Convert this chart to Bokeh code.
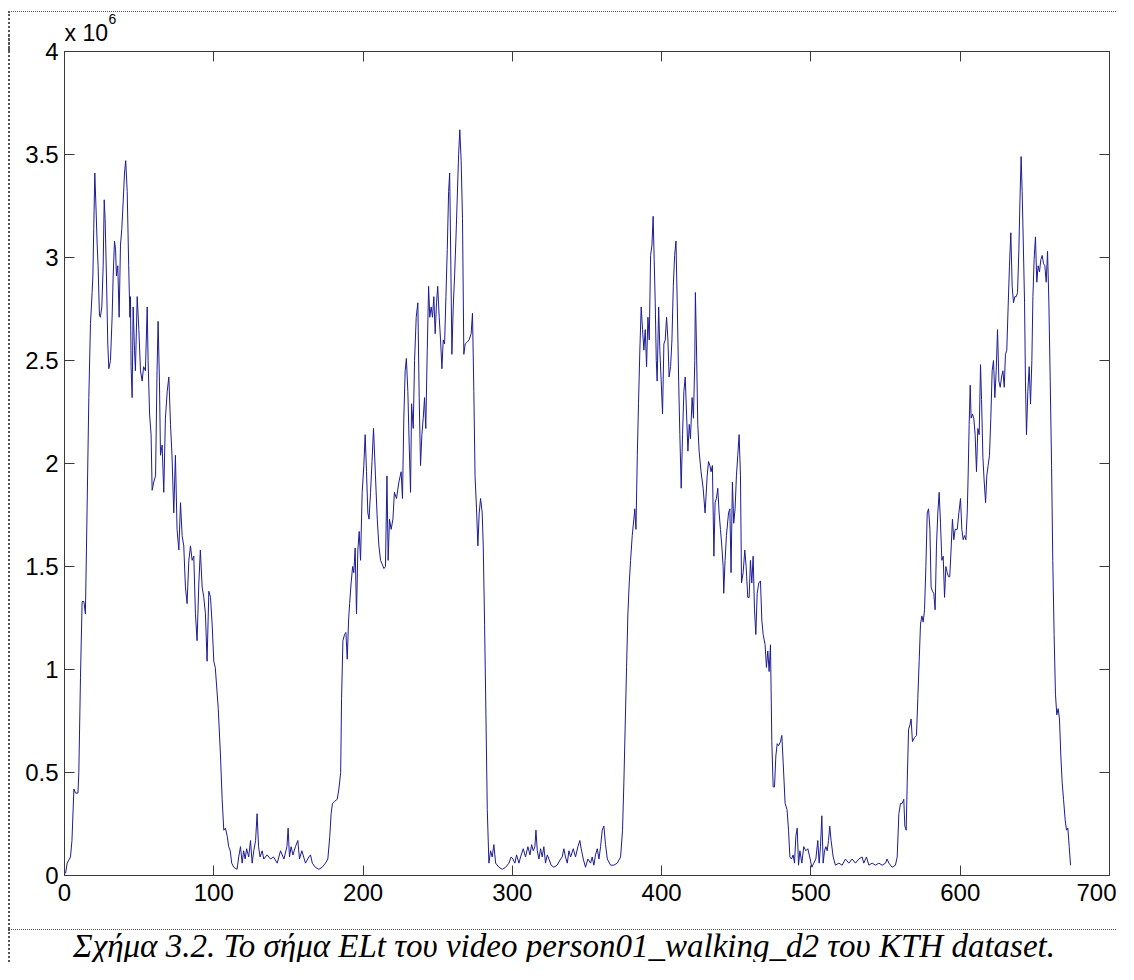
from bokeh.plotting import figure
from bokeh.layouts import column
from bokeh.models import (Range1d, LinearAxis, FixedTicker, CustomJSTickFormatter,
                          Label, ColumnDataSource)
from bokeh.embed import file_html
from bokeh.resources import INLINE

# ---------------- data (frame index, ELt value in units of 10^6) ----------------
frame = [
    0.7, 1.8, 4, 5, 6.3, 7.4, 9, 9.6, 10.7, 11.8, 13, 14, 14.7, 16.3, 17.4, 18.5, 19, 19.6, 20.3, 21.2,
    21.9, 22.5, 23.4, 24, 25, 25.9, 26.6, 27.2, 28.1, 29, 29.7, 30.8, 31.9, 32.6, 33.5, 34.2, 34.8, 35.7,
    36.6, 37.5, 38.4, 39.3, 40.2, 41, 42, 43, 43.8, 44.2, 44.6, 45.3, 46, 46.9, 47.5, 48.7, 49.8, 50.9,
    52, 53, 54.2, 55.4, 56, 57, 58, 58.7, 59.8, 61, 62, 62.7, 63.6, 64.3, 65.4, 66.5, 67.6, 68.8, 69.9,
    71, 72, 73.2, 74.3, 75.4, 76.6, 77.7, 78.8, 79.9, 81, 82.1, 83.3, 84.4, 85.5, 86.6, 87.7, 88.8, 90,
    91, 92.2, 93.3, 94.4, 95.5, 96.7, 97.8, 98.9, 100, 101, 102, 103, 104.5, 105.6, 106.7, 107.8, 109,
    110, 111, 112, 113.4, 115.6, 116.7, 117.9, 119, 120, 121, 122, 123.4, 124.6, 125.7, 126.8, 128, 129,
    130, 131, 132.4, 133.5, 135.7,
    138, 140, 142.5, 144.7, 147, 149, 149.8, 150.7, 151.8, 153, 154.7, 156.3, 157.4, 159, 161.4, 163.7,
    164.8, 166, 168, 170.4, 172.6, 174.8, 176.4, 177.7, 178.6, 179.5, 180.9, 182.7, 183.8, 185, 185.6,
    186.5, 187.6, 188.5, 189.4, 190.3, 191, 192, 193, 193.8, 194.7, 195.6, 196.5, 197.4, 198.3, 199.4,
    200.5, 201.4, 202.3, 203.2, 204, 205, 206, 207, 208.3, 209.5, 210.6, 211.7, 214, 215, 216, 216.8,
    217.7, 218.8, 220, 221, 222.4, 224, 225.5, 226.4, 227.3, 228.2, 229, 230, 230.9, 231.8, 232.5, 233.6,
    234.5, 235.6, 236.7, 237.6, 238.5, 239.4, 240.3, 241.2, 242, 243, 243.9, 244.7, 245.6, 246.5, 247.4,
    248.3, 249.2, 250, 251, 251.9, 252.8, 253.7, 254.6, 255.5, 256.4, 257.3, 258, 258.8, 259.5, 260.4,
    261.3, 262.2, 263, 264, 264.8, 265.7, 266.6, 267.5, 268.4, 269.8, 271, 272.4, 273.3, 274.2, 275, 276,
    276.9, 277.8,
    278.7, 279.8, 280.5, 281.4, 282.3, 283.2, 284.3, 285.4, 286.5, 287.6, 288.8, 291, 293.2, 295.5, 297.7,
    299.2, 300.4, 301.7, 302.8, 304.4, 305.5, 307.3, 308.8, 310.4, 311.8, 312.9, 314, 315.1, 315.8, 316.7,
    317.8, 318.9, 320, 321.1, 322.2, 323.4, 324.5, 326, 327.8, 330, 332.3, 333.4, 334.5, 335.6, 336.8,
    337.9, 339, 340.8, 342.3, 343.9, 345.2, 346.1, 347.5, 349, 350.6, 352.4, 353.5, 354.6, 355.7, 356.9,
    358, 359.1, 360.2, 361.3, 362.4, 363.6, 365.8, 368, 370.3, 372.5, 373.8, 374.7, 375.6, 376.5, 377.4,
    378.3, 379.2, 380.3, 381.4, 382, 382.8, 383.7, 384.5, 385.4, 386.3, 387.2, 388.1, 389, 389.9, 390.8,
    391.7, 392.6, 393.5, 394.3, 395, 395.7, 396.4, 397, 398, 398.8, 399.7, 400.6, 401.5, 402.4, 403.3,
    404.2, 405, 406, 406.9, 407.8, 408.7, 409.6, 410.5, 411.4, 412.2, 413.1, 414, 414.9, 415.8, 416.7,
    417.6, 418.5,
    419.3, 420.4, 421.3, 422.2, 422.6, 423.3, 424.2, 425.1, 426.4, 427.8, 429.1, 430.5, 431.4, 432.3,
    433.1, 434, 435, 435.8, 436.7, 437.6, 438.5, 439.4, 440.3, 441.2, 441.6, 442.5, 443.4, 444.8, 445.7,
    446.5, 447.4, 448.3, 449.2, 450.1, 451, 451.9, 452.8, 453.5, 454.6, 455.7, 456.6, 457.7, 458.6, 459.5,
    460.4, 461.3, 462.2, 463.1, 464, 465.1, 466.2, 467.1, 468, 469.3, 470.2, 471.1, 472, 472.9, 473.8,
    474.7, 475.6, 476.5, 477.4, 478.3, 479.6, 480.5, 481.4, 482.7, 484, 485, 485.9, 487, 488.1, 489,
    489.9, 490.8, 491.7, 492.6, 493.9, 495.2, 496.6, 497.9, 499.2, 500.6, 501.9, 503.3, 504.6, 505.5,
    506.4, 507.3, 508.2, 509.1, 510, 510.9, 511.8, 512.6, 513.5, 514.9, 516.4, 518.7, 520.9, 523.1, 525.4,
    527.6, 529.8, 532.1, 534.3, 535.4, 537.2, 538.8, 541, 543.2, 545.5, 547.7, 550, 551, 552.2, 554.4,
    556.6, 557.8, 558.9, 560,
    561.1, 562.2, 562.9, 563.8, 564.5, 565.4, 566.3, 567.1, 568, 569.4, 570.7, 571.6, 572.5, 573.4, 574.3,
    575.2, 576.1, 577, 577.9, 578.8, 579.7, 580.5, 581.4, 582.3, 583.2, 584.1, 585, 585.9, 586.8, 587.7,
    588.6, 589.5, 590.4, 591.3, 592.2, 593, 594, 594.8, 595.7, 596.6, 598, 599.1, 600.2, 601.1, 602,
    602.9, 603.8, 604.7, 605.3, 606, 606.7, 607.3, 608.2, 609.1, 610, 610.9, 611.8, 612.7, 613.6, 614.3,
    615.2, 616, 617, 617.8, 618.7, 619.6, 620.5, 621.4, 622.3, 623.2, 624.1, 625, 625.9, 626.8, 627.7,
    628.6, 629.5, 630.3, 631.2, 632.1, 633, 633.9, 634.8, 635.7, 636.6, 637.5, 638.4, 639.3, 640, 640.8,
    641.5, 642.2, 643.1, 643.7, 644.4, 645.3, 646.2, 647.1, 648, 648.7, 649.5, 650.4, 651.3, 652.2, 653.1,
    654, 654.9, 655.8, 656.7, 657.6, 658.5, 659.4, 660.3, 661.2, 662, 662.9, 663.8, 664.7, 665.6, 666.5,
    667.4, 668.3, 669.2, 670.3, 671.2, 672.1, 673, 673.9,
]

elt = [
    0.01, 0.06, 0.09, 0.17, 0.42, 0.40, 0.40, 0.5, 0.96, 1.33, 1.33, 1.27, 1.58, 2.32, 2.68, 2.83, 2.91, 3.14, 3.41, 3.22,
    3.06, 2.96, 2.72, 2.71, 2.76, 2.96, 3.28, 3.19, 2.91, 2.58, 2.46, 2.5, 2.71, 2.91, 3.08, 3.04, 2.91, 2.96,
    2.71, 3.06, 3.14, 3.27, 3.41, 3.47, 3.32, 2.96, 2.71, 2.81, 2.47, 2.32, 2.76, 2.55, 2.45, 2.81, 2.65, 2.45,
    2.4, 2.47, 2.45, 2.76, 2.5, 2.24, 2.14, 1.87, 1.91, 1.94, 2.45, 2.69, 2.4, 2.04, 2.09, 1.86, 2.22, 2.35, 2.42,
    2.19, 2.04, 1.76, 2.04, 1.68, 1.58, 1.81, 1.65, 1.6, 1.4, 1.32, 1.53, 1.6, 1.53, 1.55, 1.27, 1.14, 1.42,
    1.58, 1.4, 1.35, 1.27, 1.04, 1.38, 1.35, 1.22, 1.04, 1.01, 0.91, 0.81, 0.58, 0.37, 0.22, 0.23, 0.19,
    0.14, 0.12, 0.06, 0.04, 0.03, 0.09, 0.14, 0.06, 0.12, 0.08, 0.13, 0.09, 0.17, 0.06, 0.12, 0.17, 0.3,
    0.14, 0.09, 0.12, 0.08, 0.1,
    0.08, 0.09, 0.06, 0.12, 0.08, 0.14, 0.23, 0.09, 0.14, 0.1, 0.14, 0.17, 0.08, 0.12, 0.06, 0.09,
    0.1, 0.06, 0.04, 0.03, 0.04, 0.06, 0.08, 0.19, 0.3, 0.35, 0.36, 0.37, 0.42, 0.5, 0.86,
    1.14, 1.17, 1.18, 1.05, 1.24, 1.32, 1.42, 1.5, 1.47, 1.59, 1.27, 1.58, 1.67, 1.53, 1.86,
    1.99, 2.14, 1.96, 1.76, 1.73, 1.86, 2.01, 2.17, 1.94, 1.73, 1.6, 1.53, 1.49, 1.5, 1.94, 1.53,
    1.73, 1.68, 1.73, 1.86, 1.83, 1.91, 1.96, 1.83, 2.22, 2.45, 2.51, 2.35, 2.09, 1.86, 2.29, 2.17,
    2.5, 2.71, 2.78, 2.32, 1.99, 2.14, 2.22, 2.32, 2.17, 2.55, 2.86, 2.71, 2.76, 2.71, 2.81,
    2.63, 2.78, 2.86, 2.71, 2.6, 2.46, 2.6, 2.58, 2.81, 3.04, 3.32, 3.41, 2.96, 2.53, 2.76,
    2.91, 3.09, 3.27, 3.5, 3.62, 3.47, 3.19, 2.53, 2.58, 2.59, 2.6, 2.63, 2.73, 2.35, 1.94, 1.78,
    1.6, 1.76,
    1.83, 1.76, 1.6, 1.22, 0.78, 0.32, 0.06, 0.12, 0.09, 0.15, 0.06, 0.04, 0.03, 0.04, 0.06,
    0.09, 0.08, 0.06, 0.1, 0.06, 0.09, 0.13, 0.09, 0.14, 0.1, 0.15, 0.12, 0.14, 0.22, 0.12,
    0.08, 0.13, 0.09, 0.14, 0.06, 0.1, 0.08, 0.05, 0.04, 0.05, 0.08, 0.09, 0.13, 0.09, 0.06,
    0.12, 0.09, 0.13, 0.09, 0.14, 0.17, 0.13, 0.08, 0.04, 0.08, 0.06, 0.09, 0.05, 0.1, 0.13,
    0.08, 0.14, 0.22, 0.24, 0.15, 0.08, 0.05, 0.05, 0.06, 0.09, 0.22, 0.45, 0.73, 1.01, 1.27,
    1.42, 1.53, 1.65, 1.73, 1.78, 1.68, 2.04, 2.29, 2.55, 2.76, 2.65, 2.55, 2.65, 2.47, 2.71,
    2.6, 3.01, 3.06, 3.2, 2.99, 2.78, 2.5, 2.4, 2.76, 2.55, 2.4, 2.24, 2.58, 2.6, 2.71,
    2.6, 2.42, 2.47, 2.6, 2.86, 3.01, 3.08, 2.76, 2.4, 2.14, 1.88, 2.14, 2.35, 2.42, 2.24,
    2.06, 2.19,
    2.12, 2.32, 2.22, 2.5, 2.83, 2.58, 2.19, 2.06, 1.96, 1.88, 1.76, 1.94, 2.01, 1.99,
    1.96, 1.99, 1.55, 1.81, 1.83, 1.88, 1.76, 1.68, 1.6, 1.5, 1.37, 1.53, 1.65, 1.76, 1.78,
    1.47, 1.91, 1.71, 1.78, 1.94, 2.04, 2.14, 1.94, 1.42, 1.47, 1.58, 1.5, 1.35, 1.35, 1.53,
    1.42, 1.55, 1.29, 1.17, 1.37, 1.42, 1.43, 1.24, 1.17, 1.12, 1.01, 1.09, 0.99, 1.12, 0.65,
    0.43, 0.43, 0.58, 0.64, 0.63, 0.65, 0.68, 0.55, 0.35, 0.32, 0.22, 0.09, 0.08, 0.1, 0.06,
    0.19, 0.23, 0.05, 0.12, 0.06, 0.14, 0.12, 0.13, 0.09, 0.04, 0.06, 0.08, 0.17, 0.06,
    0.14, 0.29, 0.06, 0.12, 0.14, 0.12, 0.17, 0.24, 0.17, 0.09, 0.05, 0.06, 0.05, 0.08, 0.06,
    0.08, 0.06, 0.08, 0.09, 0.06, 0.09, 0.05, 0.06, 0.05, 0.06, 0.05, 0.06, 0.08, 0.06, 0.04,
    0.05, 0.09, 0.3, 0.35,
    0.35, 0.37, 0.24, 0.22, 0.45, 0.71, 0.73, 0.76, 0.65, 0.67, 0.68, 0.86, 1.04, 1.22, 1.26,
    1.23, 1.29, 1.5, 1.76, 1.78, 1.68, 1.4, 1.38, 1.37, 1.29, 1.6, 1.76, 1.86, 1.71, 1.53,
    1.55, 1.35, 1.5, 1.47, 1.45, 1.45, 1.6, 1.73, 1.63, 1.68, 1.68, 1.76, 1.83, 1.68, 1.63,
    1.65, 1.63, 1.76, 1.94, 2.19, 2.38, 2.22, 2.24, 2.22, 2.14, 1.96, 2.17, 2.14, 2.48, 2.31,
    2.03, 1.92, 1.81, 1.94, 1.99, 2.04, 2.22, 2.45, 2.5, 2.32, 2.45, 2.65, 2.4, 2.37, 2.42,
    2.45, 2.37, 2.53, 2.55, 2.76, 2.96, 3.12, 2.86, 2.78, 2.81, 2.81, 2.83, 3.04, 3.27, 3.49,
    3.32, 3.09, 2.78, 2.4, 2.14, 2.35, 2.47, 2.29, 2.5, 2.81, 2.99, 3.1, 2.88, 2.96, 2.93,
    2.99, 3.01, 2.97, 2.96, 2.88, 3.03, 2.78, 2.4, 1.99, 1.53, 1.17, 0.88, 0.78, 0.81, 0.76,
    0.58, 0.45, 0.37, 0.27, 0.22, 0.23, 0.14, 0.05,
]

x_ticks = [0, 100, 200, 300, 400, 500, 600, 700]
y_ticks = [0, 0.5, 1, 1.5, 2, 2.5, 3, 3.5, 4]
exponent_base = "x 10"
exponent_power = "6"
caption = "Σχήμα 3.2. Το σήμα ELt του video person01_walking_d2 του KTH dataset."

n = min(len(frame), len(elt))
source = ColumnDataSource(data=dict(x=frame[:n], y=elt[:n]))

AX = "#3a3a3a"
DOT = "#555555"

def strip(height, styles):
    f = figure(width=1108, height=height, output_backend="svg", toolbar_location=None,
               title=None, x_range=Range1d(0, 1), y_range=Range1d(0, 1),
               x_axis_location=None, y_axis_location=None,
               min_border_left=54, min_border_right=9, min_border_top=0, min_border_bottom=0)
    f.styles = styles
    f.grid.visible = False
    f.outline_line_color = None
    f.background_fill_color = "white"
    f.border_fill_color = "white"
    return f

# ---------------- header strip with the exponent "x 10^6" ----------------
hdr = strip(40, {"margin-left": "8px", "margin-top": "11px",
                 "border-top": "1px dotted " + DOT, "border-left": "2px dotted " + DOT})
hdr.add_layout(Label(x=0, y=20, x_units="screen", y_units="screen", text=exponent_base,
                     text_font="Liberation Sans", text_font_size="23px", text_color="black",
                     text_align="left", text_baseline="alphabetic"))
hdr.add_layout(Label(x=44, y=34, x_units="screen", y_units="screen", text=exponent_power,
                     text_font="Liberation Sans", text_font_size="14px", text_color="black",
                     text_align="left", text_baseline="alphabetic"))

# ---------------- main MATLAB-style figure (overlaps the header a little) ----------------
p = figure(width=1108, height=894, output_backend="svg", toolbar_location=None,
           title=None, x_range=Range1d(0, 700), y_range=Range1d(0, 4),
           min_border_left=54, min_border_right=9, min_border_top=16, min_border_bottom=54)
p.styles = {"margin-left": "8px", "margin-top": "-16px", "border-left": "2px dotted " + DOT}
p.background_fill_color = "white"
p.border_fill_color = None
p.outline_line_color = AX
p.outline_line_width = 1
p.grid.visible = False

p.line("x", "y", source=source, line_color="#1c1c96", line_width=1)

def style_axis(ax, labels=True):
    ax.axis_line_color = AX
    ax.axis_line_width = 1
    ax.major_tick_line_color = AX
    ax.major_tick_in = 10
    ax.major_tick_out = 0
    ax.minor_tick_line_color = None
    ax.major_label_text_font = "Liberation Sans"
    ax.major_label_text_font_size = "24px"
    ax.major_label_text_color = "black"
    if not labels:
        ax.major_label_text_font_size = "1px"
        ax.major_label_standoff = 0

xa = p.xaxis[0]
xa.ticker = FixedTicker(ticks=x_ticks)
style_axis(xa)
xa.major_label_standoff = 8

ya = p.yaxis[0]
ya.ticker = FixedTicker(ticks=y_ticks)
ya.formatter = CustomJSTickFormatter(code="return tick.toString()")
style_axis(ya)
ya.major_label_standoff = 6

blank = CustomJSTickFormatter(code="return ''")
top = LinearAxis(ticker=FixedTicker(ticks=x_ticks), formatter=blank)
style_axis(top, labels=False)
p.add_layout(top, "above")
right = LinearAxis(ticker=FixedTicker(ticks=y_ticks), formatter=blank)
style_axis(right, labels=False)
p.add_layout(right, "right")

# ---------------- caption strip ----------------
cap = strip(33, {"margin-left": "8px", "border-top": "1px dotted " + DOT,
                 "border-left": "2px dotted " + DOT})
cap.add_layout(Label(x=499.5, y=18, x_units="screen", y_units="screen", text=caption,
                     text_font="Liberation Serif", text_font_style="italic", text_font_size="33px",
                     text_color="black", text_align="center", text_baseline="alphabetic"))

layout = column(hdr, p, cap, spacing=0)
open("out.html", "w").write(file_html(layout, INLINE))
